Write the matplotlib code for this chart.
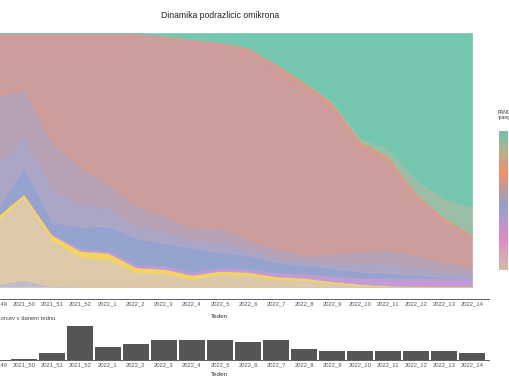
import numpy as np
import matplotlib
matplotlib.use("Agg")
import matplotlib.pyplot as plt
from matplotlib.colors import LinearSegmentedColormap

weeks = ["2021_49", "2021_50", "2021_51", "2021_52", "2022_1", "2022_2", "2022_3",
         "2022_4", "2022_5", "2022_6", "2022_7", "2022_8", "2022_9", "2022_10",
         "2022_11", "2022_12", "2022_13", "2022_14"]

# weekly shares (%) of lineages, bottom to top
share_bump = [0.8, 2.8, 0.2, 0, 0, 0, 0, 0, 0, 0, 0, 0, 0, 0, 0, 0, 0, 0]
share_tan = [24.8, 32.7, 18.3, 11.8, 11.0, 5.9, 5.5, 3.1, 5.1, 4.7, 3.1, 2.8, 1.6, 0.8, 0.4, 0.2, 0.1, 0.1]
share_yellow = [2.0, 1.2, 2.0, 2.4, 2.4, 1.8, 1.6, 1.6, 1.2, 1.2, 1.0, 0.8, 0.6, 0.4, 0.2, 0.1, 0.1, 0.1]
share_lilac = [0, 0, 0.4, 0.8, 0.8, 1.0, 1.2, 1.2, 1.2, 1.2, 1.4, 1.6, 2.0, 2.4, 2.8, 3.1, 3.1, 3.1]
share_blue = [2.0, 10.6, 4.7, 8.7, 9.8, 10.6, 9.1, 9.8, 6.3, 5.5, 4.3, 3.5, 3.3, 2.4, 2.2, 1.3, 0.6, 0.2]
share_mauve_a = [18, 12, 13, 9, 7, 5, 4.3, 3, 3.8, 2.4, 2, 1.6, 2.2, 3.3, 3.6, 3, 2.4, 1.6]
share_mauve_b = [27.3, 18.3, 18.5, 14.2, 9.5, 7.6, 6.3, 4.5, 5.6, 3.5, 3.1, 2.3, 3.3, 5.0, 5.5, 4.5, 3.5, 2.3]
share_salmon = [25.2, 22.4, 42.9, 53.1, 59.4, 68.1, 70.9, 74.0, 72.8, 75.2, 72.0, 66.9, 58.3, 41.7, 35.4, 23.6, 16.5, 12.2]
share_orange = [0, 0, 0, 0, 0, 0, 0.2, 0.3, 0.4, 0.6, 0.8, 1.0, 1.2, 1.2, 1.2, 1.0, 0.8, 0.8]
share_mix = [0, 0, 0, 0, 0, 0, 0, 0, 0, 0, 0.2, 0.4, 0.8, 1.6, 3.1, 5.5, 7.9, 11.0]
share_teal = [0, 0, 0, 0, 0, 0, 1.0, 2.4, 3.5, 5.7, 12.0, 19.1, 26.8, 41.3, 45.7, 57.7, 65.0, 68.5]

layer_colors = ["#c3bcc6", "#dcc9a9", "#f5d35c", "#c49ad6", "#97a3cf", "#aca6c6",
                "#b7a1b5", "#cc9d9b", "#e3977a", "#9cbea6", "#75c6af"]

counts = [10, 32, 175, 833, 325, 383, 483, 500, 483, 443, 500, 258, 225, 225, 225, 225, 225, 183]

plt.rcParams["font.family"] = ["Liberation Sans", "DejaVu Sans"]

W, H = 510, 382
fig = plt.figure(figsize=(W / 100, H / 100), dpi=100)
x = np.arange(len(weeks))

# ---- top: stacked area ----
ax = fig.add_axes([-21 / W, 83 / H, 510 / W, 266 / H])
stack = np.vstack([share_bump, share_tan, share_yellow, share_lilac, share_blue,
                   share_mauve_a, share_mauve_b, share_salmon, share_orange,
                   share_mix, share_teal]).astype(float)
stack = stack / stack.sum(axis=0)
polys = ax.stackplot(x, stack, colors=layer_colors, linewidth=0.4)
for p, c in zip(polys, layer_colors):
    p.set_edgecolor(c)
ax.set_xlim(-0.6, 17.6)
ax.set_ylim(-12 / 254, 1.0)
ax.set_yticks([])
ax.set_xticks(x)
ax.set_xticklabels(weeks, fontsize=4.2, color="#555555")
ax.tick_params(axis="x", length=0, pad=2)
for s in ["top", "left", "right"]:
    ax.spines[s].set_visible(False)
ax.spines["bottom"].set_color("#444444")
ax.spines["bottom"].set_linewidth(0.6)
ax.set_xlabel("Teden", fontsize=4.6, color="#333333")
ax.xaxis.set_label_coords(8.6 / 18.2, -0.058)

fig.text(220 / W, 1 - 16 / H, "Dinamika podrazlicic omikrona", ha="center",
         va="center", fontsize=6.2, color="#222222")

# ---- bottom: bar chart ----
ax2 = fig.add_axes([-21 / W, 22 / H, 510 / W, 34 / H])
ax2.bar(x, counts, width=0.93, color="#555555")
ax2.set_xlim(-0.6, 17.6)
ax2.set_ylim(0, max(counts))
ax2.set_yticks([])
ax2.set_xticks(x)
ax2.set_xticklabels(weeks, fontsize=4.2, color="#555555")
ax2.tick_params(axis="x", length=0, pad=1.5)
for s in ["top", "left", "right"]:
    ax2.spines[s].set_visible(False)
ax2.spines["bottom"].set_color("#444444")
ax2.spines["bottom"].set_linewidth(0.6)
ax2.set_xlabel("Teden", fontsize=4.6, color="#333333")
ax2.xaxis.set_label_coords(8.6 / 18.2, -0.36)
fig.text(55 / W, 1 - 319 / H, "Število vzorcev v danem tednu", ha="right",
         va="center", fontsize=4.2, color="#444444")

# ---- legend colourbar ----
cmap = LinearSegmentedColormap.from_list(
    "pango", [(0.0, "#d2bea5"), (0.21, "#e18cc8"), (0.46, "#96a0cd"),
              (0.69, "#f0916a"), (0.85, "#b8b08e"), (1.0, "#6ec3aa")])
cax = fig.add_axes([499 / W, 1 - 270 / H, 9 / W, 139 / H])
grad = np.linspace(0, 1, 256).reshape(-1, 1)
cax.imshow(grad, aspect="auto", cmap=cmap, origin="lower")
cax.set_axis_off()
fig.text(498 / W, 1 - 115 / H, "PANGO\n-pangolin", ha="left", va="center",
         fontsize=3.6, color="#333333", linespacing=1.0)

fig.savefig("out.png", dpi=100)
